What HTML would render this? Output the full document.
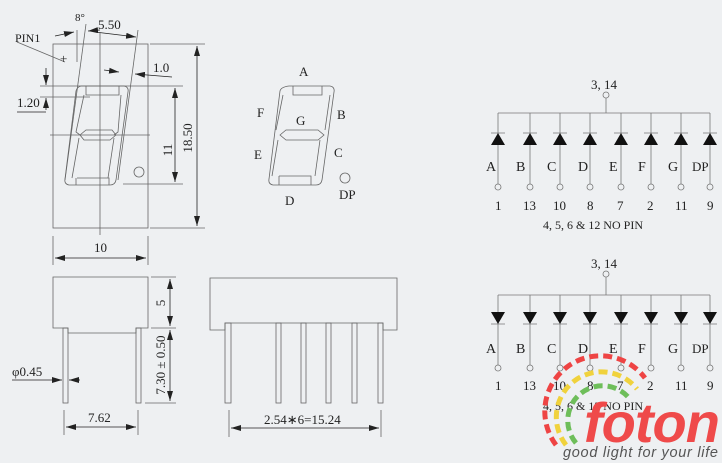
<!DOCTYPE html>
<html><head><style>
html,body{margin:0;padding:0;background:#eef0f2;}
svg{display:block;}
text{font-family:"Liberation Serif",serif;fill:#222;}
</style></head><body>
<svg width="722" height="463" viewBox="0 0 722 463" xmlns="http://www.w3.org/2000/svg">
<defs>
<marker id="ar" markerWidth="10" markerHeight="6" refX="10" refY="3" orient="auto" markerUnits="userSpaceOnUse"><path d="M0,0 L10,3 L0,6 Z" fill="#222"/></marker>
</defs>
<rect width="722" height="463" fill="#eef0f2"/>
<g stroke="#666" stroke-width="0.8" fill="none">
<rect x="53" y="44" width="95" height="184"/>
<line x1="100" y1="33" x2="100" y2="235"/>
<line x1="40" y1="86" x2="183" y2="86"/>
<line x1="40" y1="97" x2="90" y2="97"/>
<line x1="50" y1="135" x2="150" y2="135"/>
<line x1="123" y1="184" x2="183" y2="184"/>
<line x1="150" y1="44" x2="205" y2="44"/>
<line x1="150" y1="228" x2="205" y2="228"/>
<line x1="86" y1="24" x2="65" y2="180"/>
<line x1="138" y1="30" x2="118" y2="180"/>
<line x1="77" y1="30" x2="77" y2="62"/>
<path d="M81,86 L124,86 Q129,87 128,92 L116,180 Q115,185 110,185 L69,185 Q64,184 65,179 L76,91 Q77,87 81,86 Z"/>
<path d="M86,86 L86,95 L119,95 L119,86 M76,178 L76,185 M77,178 L109,178 L109,185"/>
<path d="M84,95 L76,132 L80,135 M121,95 L118,132 L114,135 M80,135 L86,130 L112,130 L116,135 L110,140 L84,140 Z M79,138 L72,178 M114,138 L108,178"/>
<circle cx="139" cy="172" r="5"/>
<line x1="17" y1="42" x2="65" y2="62"/>
<path d="M289,86 L330,86 Q335,87 334,92 L322,180 Q321,185 316,185 L273,185 Q268,184 269,179 L280,91 Q281,87 289,86 Z"/>
<path d="M293,86 L293,95 L322,95 L322,86 M283,95 L276,130 M330,95 L325,130 M280,135 L286,130 L318,130 L324,135 L318,140 L286,140 Z M278,140 L272,176 M320,140 L315,176 M279,176 L279,185 M279,176 L311,176 L311,185"/>
<circle cx="345" cy="178" r="5"/>
<path d="M53,277 L148,277 L148,328 L136,328 L136,333 L68,333 L68,328 L53,328 Z"/>
<rect x="63" y="328" width="5" height="75"/>
<rect x="136" y="328" width="5" height="75"/>
<line x1="53" y1="236" x2="53" y2="265"/><line x1="148" y1="236" x2="148" y2="265"/>
<line x1="151" y1="277" x2="176" y2="277"/><line x1="151" y1="328" x2="176" y2="328"/><line x1="145" y1="403" x2="176" y2="403"/>
<line x1="64" y1="410" x2="64" y2="435"/><line x1="138" y1="410" x2="138" y2="435"/>
<path d="M210,278 L397,278 L397,330 L383,330 L383,323 L225,323 L225,330 L210,330 Z"/>
<rect x="225" y="323" width="6" height="80"/>
<rect x="276" y="323" width="5" height="80"/>
<rect x="301" y="323" width="5" height="80"/>
<rect x="326" y="323" width="5" height="80"/>
<rect x="352" y="323" width="5" height="80"/>
<rect x="378" y="323" width="5" height="80"/>
<line x1="229" y1="410" x2="229" y2="437"/><line x1="381" y1="410" x2="381" y2="437"/>
</g>
<g stroke="#222" stroke-width="0.8" fill="none">
<line x1="197" y1="140" x2="197" y2="46" marker-end="url(#ar)"/>
<line x1="197" y1="140" x2="197" y2="226" marker-end="url(#ar)"/>
<line x1="175" y1="135" x2="175" y2="88" marker-end="url(#ar)"/>
<line x1="175" y1="135" x2="175" y2="182" marker-end="url(#ar)"/>
<line x1="46" y1="68" x2="46" y2="85" marker-end="url(#ar)"/>
<line x1="46" y1="110" x2="46" y2="98" marker-end="url(#ar)"/>
<line x1="17" y1="112" x2="46" y2="112"/>
<line x1="55" y1="36" x2="74" y2="32" marker-end="url(#ar)"/>
<line x1="100" y1="30" x2="88" y2="31" marker-end="url(#ar)"/>
<line x1="95" y1="32" x2="136" y2="37" marker-end="url(#ar)"/>
<line x1="104" y1="70" x2="119" y2="72" marker-end="url(#ar)"/>
<line x1="172" y1="77" x2="135" y2="74" marker-end="url(#ar)"/>
<line x1="100" y1="258" x2="55" y2="258" marker-end="url(#ar)"/>
<line x1="100" y1="258" x2="146" y2="258" marker-end="url(#ar)"/>
<line x1="170" y1="300" x2="170" y2="279" marker-end="url(#ar)"/>
<line x1="170" y1="300" x2="170" y2="326" marker-end="url(#ar)"/>
<line x1="170" y1="360" x2="170" y2="330" marker-end="url(#ar)"/>
<line x1="170" y1="360" x2="170" y2="401" marker-end="url(#ar)"/>
<line x1="12" y1="380" x2="62" y2="380" marker-end="url(#ar)"/>
<line x1="80" y1="380" x2="69" y2="380" marker-end="url(#ar)"/>
<line x1="100" y1="427" x2="66" y2="427" marker-end="url(#ar)"/>
<line x1="100" y1="427" x2="136" y2="427" marker-end="url(#ar)"/>
<line x1="300" y1="428" x2="231" y2="428" marker-end="url(#ar)"/>
<line x1="300" y1="428" x2="379" y2="428" marker-end="url(#ar)"/>
</g>
<g font-size="13">
<text x="15" y="42" font-size="12">PIN1</text>
<text x="60" y="63">+</text>
<text x="75" y="21" font-size="11">8°</text>
<text x="98" y="29">5.50</text>
<text x="153" y="72">1.0</text>
<text x="17" y="107">1.20</text>
<text x="172" y="144" transform="rotate(-90 172 144)" text-anchor="middle" dx="-6">11</text>
<text x="192" y="138" transform="rotate(-90 192 138)" text-anchor="middle">18.50</text>
<text x="94" y="252">10</text>
<text x="165" y="303" transform="rotate(-90 165 303)" text-anchor="middle">5</text>
<text x="165" y="365" transform="rotate(-90 165 365)" text-anchor="middle">7.30 ± 0.50</text>
<text x="12" y="376">φ0.45</text>
<text x="88" y="422">7.62</text>
<text x="264" y="424">2.54∗6=15.24</text>
<text x="299" y="76">A</text><text x="257" y="117">F</text><text x="337" y="119">B</text>
<text x="296" y="125">G</text><text x="254" y="159">E</text><text x="334" y="157">C</text>
<text x="285" y="205">D</text><text x="339" y="199">DP</text>
</g>
<g stroke="#777" stroke-width="0.8" fill="none">
<circle cx="606" cy="95" r="3"/>
<line x1="606" y1="98" x2="606" y2="113"/>
<line x1="498" y1="113" x2="710" y2="113"/>
<circle cx="606" cy="274" r="3"/>
<line x1="606" y1="277" x2="606" y2="295"/>
<line x1="498" y1="295" x2="710" y2="295"/>
</g>
<g stroke="#777" stroke-width="0.8">
<line x1="498" y1="113" x2="498" y2="184"/><line x1="530" y1="113" x2="530" y2="184"/><line x1="560" y1="113" x2="560" y2="184"/><line x1="590" y1="113" x2="590" y2="184"/><line x1="621" y1="113" x2="621" y2="184"/><line x1="651" y1="113" x2="651" y2="184"/><line x1="681" y1="113" x2="681" y2="184"/><line x1="710" y1="113" x2="710" y2="184"/>
<line x1="498" y1="295" x2="498" y2="365"/><line x1="530" y1="295" x2="530" y2="365"/><line x1="560" y1="295" x2="560" y2="365"/><line x1="590" y1="295" x2="590" y2="365"/><line x1="621" y1="295" x2="621" y2="365"/><line x1="651" y1="295" x2="651" y2="365"/><line x1="681" y1="295" x2="681" y2="365"/><line x1="710" y1="295" x2="710" y2="365"/>
</g>
<g fill="#111" stroke="#777" stroke-width="0.8">
<path d="M491,133h14M523,133h14M553,133h14M583,133h14M614,133h14M644,133h14M674,133h14M703,133h14"/>
<path d="M491,324h14M523,324h14M553,324h14M583,324h14M614,324h14M644,324h14M674,324h14M703,324h14"/>
</g>
<g fill="#111">
<path d="M498,133l-7,12h14zM530,133l-7,12h14zM560,133l-7,12h14zM590,133l-7,12h14zM621,133l-7,12h14zM651,133l-7,12h14zM681,133l-7,12h14zM710,133l-7,12h14z"/>
<path d="M498,324l-7,-12h14zM530,324l-7,-12h14zM560,324l-7,-12h14zM590,324l-7,-12h14zM621,324l-7,-12h14zM651,324l-7,-12h14zM681,324l-7,-12h14zM710,324l-7,-12h14z"/>
</g>
<g fill="#eef0f2" stroke="#777" stroke-width="0.8">
<circle cx="498" cy="187" r="3"/><circle cx="530" cy="187" r="3"/><circle cx="560" cy="187" r="3"/><circle cx="590" cy="187" r="3"/><circle cx="621" cy="187" r="3"/><circle cx="651" cy="187" r="3"/><circle cx="681" cy="187" r="3"/><circle cx="710" cy="187" r="3"/>
<circle cx="498" cy="368" r="3"/><circle cx="530" cy="368" r="3"/><circle cx="560" cy="368" r="3"/><circle cx="590" cy="368" r="3"/><circle cx="621" cy="368" r="3"/><circle cx="651" cy="368" r="3"/><circle cx="681" cy="368" r="3"/><circle cx="710" cy="368" r="3"/>
</g>
<g font-size="14">
<text x="591" y="89" font-size="13">3, 14</text>
<text x="486" y="171">A</text><text x="516" y="171">B</text><text x="547" y="171">C</text><text x="578" y="171">D</text><text x="609" y="171">E</text><text x="638" y="171">F</text><text x="668" y="171">G</text><text x="692" y="171" font-size="13">DP</text>
<g font-size="13"><text x="495" y="210">1</text><text x="523" y="210">13</text><text x="553" y="210">10</text><text x="587" y="210">8</text><text x="617" y="210">7</text><text x="647" y="210">2</text><text x="675" y="210">11</text><text x="707" y="210">9</text>
<text x="543" y="229" font-size="12" textLength="100">4, 5, 6 &amp; 12  NO  PIN</text></g>
<text x="591" y="268" font-size="13">3, 14</text>
<text x="486" y="353">A</text><text x="516" y="353">B</text><text x="547" y="353">C</text><text x="578" y="353">D</text><text x="609" y="353">E</text><text x="638" y="353">F</text><text x="668" y="353">G</text><text x="692" y="353" font-size="13">DP</text>
<g font-size="13"><text x="495" y="390">1</text><text x="523" y="390">13</text><text x="553" y="390">10</text><text x="587" y="390">8</text><text x="617" y="390">7</text><text x="647" y="390">2</text><text x="675" y="390">11</text><text x="707" y="390">9</text>
<text x="543" y="410" font-size="12" textLength="100">4, 5, 6 &amp; 12  NO  PIN</text></g>
</g>
<g fill="none" stroke-width="5" stroke-dasharray="9 5">
<path d="M556,445 A50,50 0 0 1 645,378" stroke="#ee4444"/>
<path d="M566,445 A40,40 0 0 1 637,389" stroke="#f0d23c"/>
<path d="M576,443 A30,30 0 0 1 629,398" stroke="#6ebe5a"/>
</g>
<text x="584" y="442" font-size="56" font-weight="bold" font-style="italic" style="fill:#ef4a4a;font-family:'Liberation Sans',sans-serif" textLength="136">foton</text>
<text x="563" y="457" font-size="14.5" font-style="italic" style="fill:#555;font-family:'Liberation Sans',sans-serif" textLength="155">good light for your life</text>
</svg>
</body></html>
